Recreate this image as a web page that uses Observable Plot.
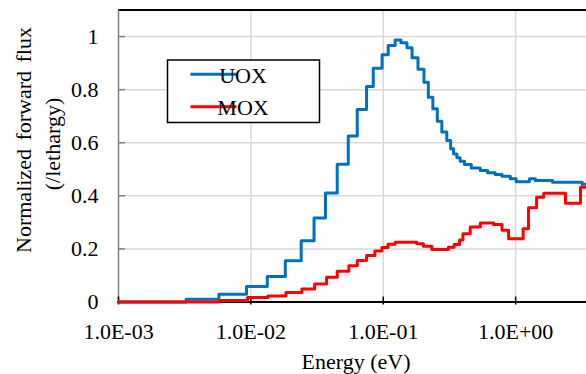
<!DOCTYPE html>
<html><head><meta charset="utf-8">
<script src="https://cdn.jsdelivr.net/npm/d3@7"></script>
<script src="https://cdn.jsdelivr.net/npm/@observablehq/plot@0.6"></script>
<style>body{margin:0;background:#fff;overflow:hidden} svg text{font-family:"Liberation Serif","Tinos","Times New Roman","DejaVu Serif",serif !important;}</style>
</head><body><div id="chart"></div>
<script>
const xTicks = [0.001, 0.01, 0.1, 1];
const yTicks = [0, 0.2, 0.4, 0.6, 0.8, 1];
const seriesNames = ["UOX", "MOX"];
const seriesColors = ["#0070C0", "#FF0000"];

const uoxEnergy = [0.001, 0.00324, 0.00573, 0.00927, 0.0133, 0.0182, 0.0240, 0.0300, 0.0366, 0.0449,
  0.0544, 0.0636, 0.0748, 0.0840, 0.0980, 0.109, 0.123, 0.136, 0.151, 0.165,
  0.183, 0.203, 0.219, 0.237, 0.256, 0.277, 0.302, 0.323, 0.340, 0.360,
  0.381, 0.411, 0.462, 0.541, 0.614, 0.702, 0.789, 0.912, 1.01, 1.27,
  1.41, 1.90, 3.18, 3.43];
const uoxFlux = [0, 0.01, 0.029, 0.058, 0.096, 0.155, 0.231, 0.316, 0.411, 0.519,
  0.625, 0.725, 0.812, 0.881, 0.931, 0.966, 0.987, 0.977, 0.958, 0.92,
  0.877, 0.828, 0.771, 0.728, 0.681, 0.64, 0.608, 0.577, 0.558, 0.543,
  0.53, 0.518, 0.505, 0.495, 0.487, 0.48, 0.474, 0.464, 0.453, 0.464,
  0.458, 0.451, 0.444, 0.444];

const moxEnergy = [0.001, 0.00579, 0.00944, 0.01345, 0.0184, 0.0243, 0.0303, 0.0373, 0.0449, 0.055,
  0.0636, 0.0748, 0.0865, 0.0977, 0.1086, 0.123, 0.179, 0.201, 0.233, 0.310,
  0.343, 0.377, 0.400, 0.454, 0.541, 0.681, 0.789, 0.885, 1.14, 1.25,
  1.44, 1.63, 2.38, 3.09, 3.43];
const moxFlux = [0, 0.006, 0.017, 0.023, 0.036, 0.049, 0.068, 0.093, 0.116, 0.137,
  0.156, 0.175, 0.192, 0.205, 0.218, 0.225, 0.219, 0.21, 0.198, 0.206,
  0.217, 0.234, 0.257, 0.283, 0.298, 0.292, 0.27, 0.238, 0.276, 0.355,
  0.395, 0.41, 0.372, 0.432, 0.432];

const rows = [
  ...uoxEnergy.map((e, i) => ({series: "UOX", energy: e, flux: uoxFlux[i]})),
  ...moxEnergy.map((e, i) => ({series: "MOX", energy: e, flux: moxFlux[i]}))
];

const fmtE = d => {
  const e = Math.round(Math.log10(d));
  return "1.0E" + (e < 0 ? "-" : "+") + String(Math.abs(e)).padStart(2, "0");
};

const FONT = '"Liberation Serif", "Tinos", "Times New Roman", "DejaVu Serif", serif';

const plot = Plot.plot({
  width: 586, height: 374,
  marginLeft: 118, marginRight: 0, marginTop: 9.5, marginBottom: 72.5,
  style: {fontFamily: FONT, fontSize: "22px", color: "#000", background: "#fff"},
  x: {type: "log", domain: [0.001, 3.43]},
  y: {domain: [0, 1.1]},
  color: {domain: seriesNames, range: seriesColors},
  marks: [
    Plot.gridX(xTicks.slice(1), {stroke: "#d9d9d9", strokeOpacity: 1, strokeWidth: 1.5}),
    Plot.gridY(yTicks.slice(1), {stroke: "#d9d9d9", strokeOpacity: 1, strokeWidth: 1.5}),
    Plot.ruleY([1.1], {stroke: "#000", strokeWidth: 2}),
    Plot.ruleX([0.001], {stroke: "#808080", strokeWidth: 1.5}),
    Plot.axisY(yTicks, {tickSize: 7, dx: 7, stroke: "#808080", strokeWidth: 1.5, fill: "none", label: null}),
    Plot.axisY(yTicks, {tickSize: 0, tickPadding: 20, fontSize: 22, fill: "#000", label: null, tickFormat: d => String(d)}),
    Plot.ruleY([0], {stroke: "#000", strokeWidth: 2}),
    Plot.axisX(xTicks, {tickSize: 8, dy: -5, stroke: "#000", strokeWidth: 1.5, fill: "none", label: null}),
    Plot.axisX(xTicks, {tickSize: 0, tickPadding: 21, tickFormat: fmtE, fontSize: 22, fill: "#000", label: null}),
    Plot.line(rows, {x: "energy", y: "flux", z: "series", stroke: "series", strokeWidth: 3, curve: "step-after"})
  ]
});
document.getElementById("chart").appendChild(plot);

const svg = d3.select(plot);
svg.append("text").attr("x", 356).attr("y", 369).attr("text-anchor", "middle")
  .attr("font-size", 22).attr("fill", "#000").text("Energy (eV)");
svg.append("text").attr("transform", "translate(31,140) rotate(-90)").attr("text-anchor", "middle")
  .attr("font-size", 22).attr("fill", "#000").attr("word-spacing", 3)
  .text("Normalized forward flux");
svg.append("text").attr("transform", "translate(60,144) rotate(-90)").attr("text-anchor", "middle")
  .attr("font-size", 22).attr("fill", "#000").text("(/lethargy)");

const lg = svg.append("g");
lg.append("rect").attr("x", 167.5).attr("y", 60).attr("width", 152).attr("height", 62.5)
  .attr("fill", "#fff").attr("stroke", "#000").attr("stroke-width", 1.5);
seriesNames.forEach((name, i) => {
  const cy = 74.3 + i * 32.4;
  lg.append("line").attr("x1", 190.5).attr("x2", 236.5).attr("y1", cy).attr("y2", cy)
    .attr("stroke", seriesColors[i]).attr("stroke-width", 3);
  lg.append("text").attr("x", 243).attr("y", cy + 8.5)
    .attr("font-size", 22).attr("fill", "#000").text(name);
});
</script>
</body></html>
